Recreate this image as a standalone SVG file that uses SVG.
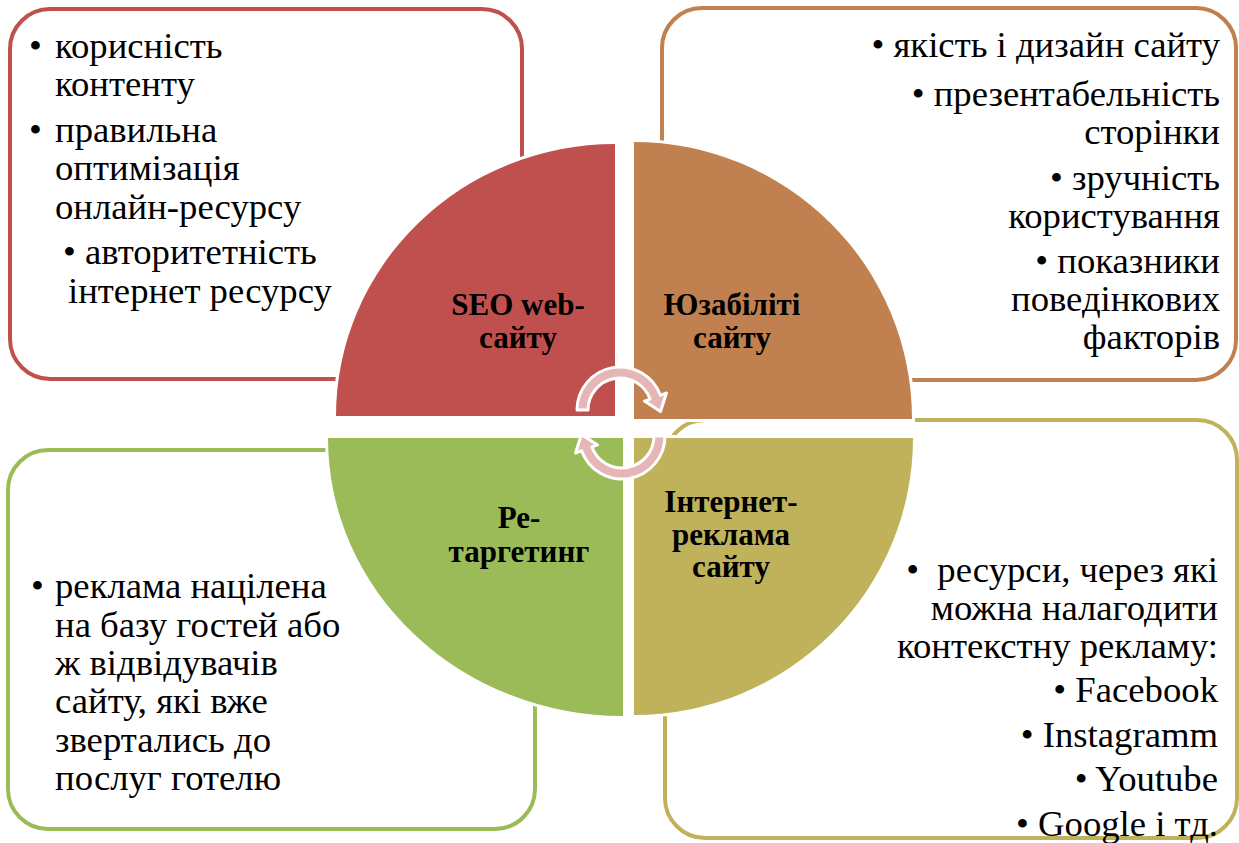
<svg xmlns="http://www.w3.org/2000/svg" width="1239" height="843" viewBox="0 0 1239 843">
<style>
.box{fill:none;stroke-width:4}
.t{font-size:36.7px;fill:#000;font-weight:400;font-style:normal}
.r{text-anchor:end}
.lbl{font-size:31px;font-weight:700;fill:#000;text-anchor:middle}
.q{stroke:#fff;stroke-width:6;paint-order:stroke}
.arr{fill:#E6B6B6;stroke:#fff;stroke-width:3;stroke-linejoin:round}
</style>
<rect width="1239" height="843" fill="#fff"/>

<g font-family="Liberation Serif, Times New Roman, DejaVu Serif, serif">
<g id="seo-details">
<rect class="box" x="10" y="9" width="512" height="370" rx="40" stroke="#C0504D"/>
<text class="t"><tspan x="29" y="58">•</tspan><tspan x="55" y="58">корисність</tspan></text>
<text class="t" x="55" y="96">контенту</text>
<text class="t"><tspan x="29" y="142">•</tspan><tspan x="55" y="142">правильна</tspan></text>
<text class="t" x="55" y="180">оптимізація</text>
<text class="t" x="55" y="219">онлайн-ресурсу</text>
<text class="t" x="63" y="264">• авторитетність</text>
<text class="t" x="68" y="303">інтернет ресурсу</text>
</g>

<g id="usability-details">
<rect class="box" x="662" y="8" width="574" height="372" rx="40" stroke="#C0804F"/>
<text class="t r" x="1220" y="57">• якість і дизайн сайту</text>
<text class="t r" x="1220" y="106">• презентабельність</text>
<text class="t r" x="1220" y="144">сторінки</text>
<text class="t r" x="1220" y="190">• зручність</text>
<text class="t r" x="1220" y="228">користування</text>
<text class="t r" x="1220" y="273">• показники</text>
<text class="t r" x="1220" y="311">поведінкових</text>
<text class="t r" x="1220" y="349">факторів</text>
</g>

<g id="retargeting-details">
<rect class="box" x="8" y="450" width="527" height="379" rx="40" stroke="#9BBB59"/>
<text class="t"><tspan x="31" y="598">•</tspan><tspan x="55" y="598">реклама націлена</tspan></text>
<text class="t" x="55" y="637">на базу гостей або</text>
<text class="t" x="55" y="675">ж відвідувачів</text>
<text class="t" x="55" y="713">сайту, які вже</text>
<text class="t" x="55" y="752">звертались до</text>
<text class="t" x="55" y="790">послуг готелю</text>
</g>

<g id="ads-details">
<rect class="box" x="665" y="420" width="572" height="418" rx="40" stroke="#C0B25A"/>
<text class="t r" x="1218" y="582">•&#160; ресурси, через які</text>
<text class="t r" x="1218" y="620">можна налагодити</text>
<text class="t r" x="1218" y="658">контекстну рекламу:</text>
<text class="t r" x="1218" y="702">• Facebook</text>
<text class="t r" x="1218" y="747">• Instagramm</text>
<text class="t r" x="1218" y="791">• Youtube</text>
<text class="t r" x="1218" y="836">• Google і тд.</text>
</g>

<g id="seo">
<path class="q" fill="#C0504D" d="M615 416 L336 416 A279 272 0 0 1 615 144 Z"/>
<text class="lbl" x="518" y="315">SEO web-</text>
<text class="lbl" x="518" y="348">сайту</text>
</g>

<g id="usability">
<path class="q" fill="#C0804F" d="M634 419 L634 142 A278 277 0 0 1 912 419 Z"/>
<text class="lbl" x="732" y="315">Юзабіліті</text>
<text class="lbl" x="732" y="348">сайту</text>
</g>

<g id="retargeting">
<path class="q" fill="#9BBB59" d="M623 438 L623 716 A295 278 0 0 1 328 438 Z"/>
<text class="lbl" x="519" y="528">Ре-</text>
<text class="lbl" x="519" y="562">таргетинг</text>
</g>

<g id="ads">
<path class="q" fill="#C0B25A" d="M634 438 L913 438 A279 277 0 0 1 634 715 Z"/>
<text class="lbl" x="731" y="512">Інтернет-</text>
<text class="lbl" x="731" y="545">реклама</text>
<text class="lbl" x="731" y="577">сайту</text>
</g>
</g>

<g id="connectors">
<path id="arrow-top" class="arr" d="M577 410 A43 43 0 0 1 660.41 395.29 L666.5 393 L660.5 411.5 L644.4 401.1 L650.07 399.06 A32 32 0 0 0 588 410 Z"/>
<path id="arrow-bottom" class="arr" transform="rotate(180 621 423)" d="M577 410 A43 43 0 0 1 660.41 395.29 L666.5 393 L660.5 411.5 L644.4 401.1 L650.07 399.06 A32 32 0 0 0 588 410 Z"/>
</g>
</svg>
